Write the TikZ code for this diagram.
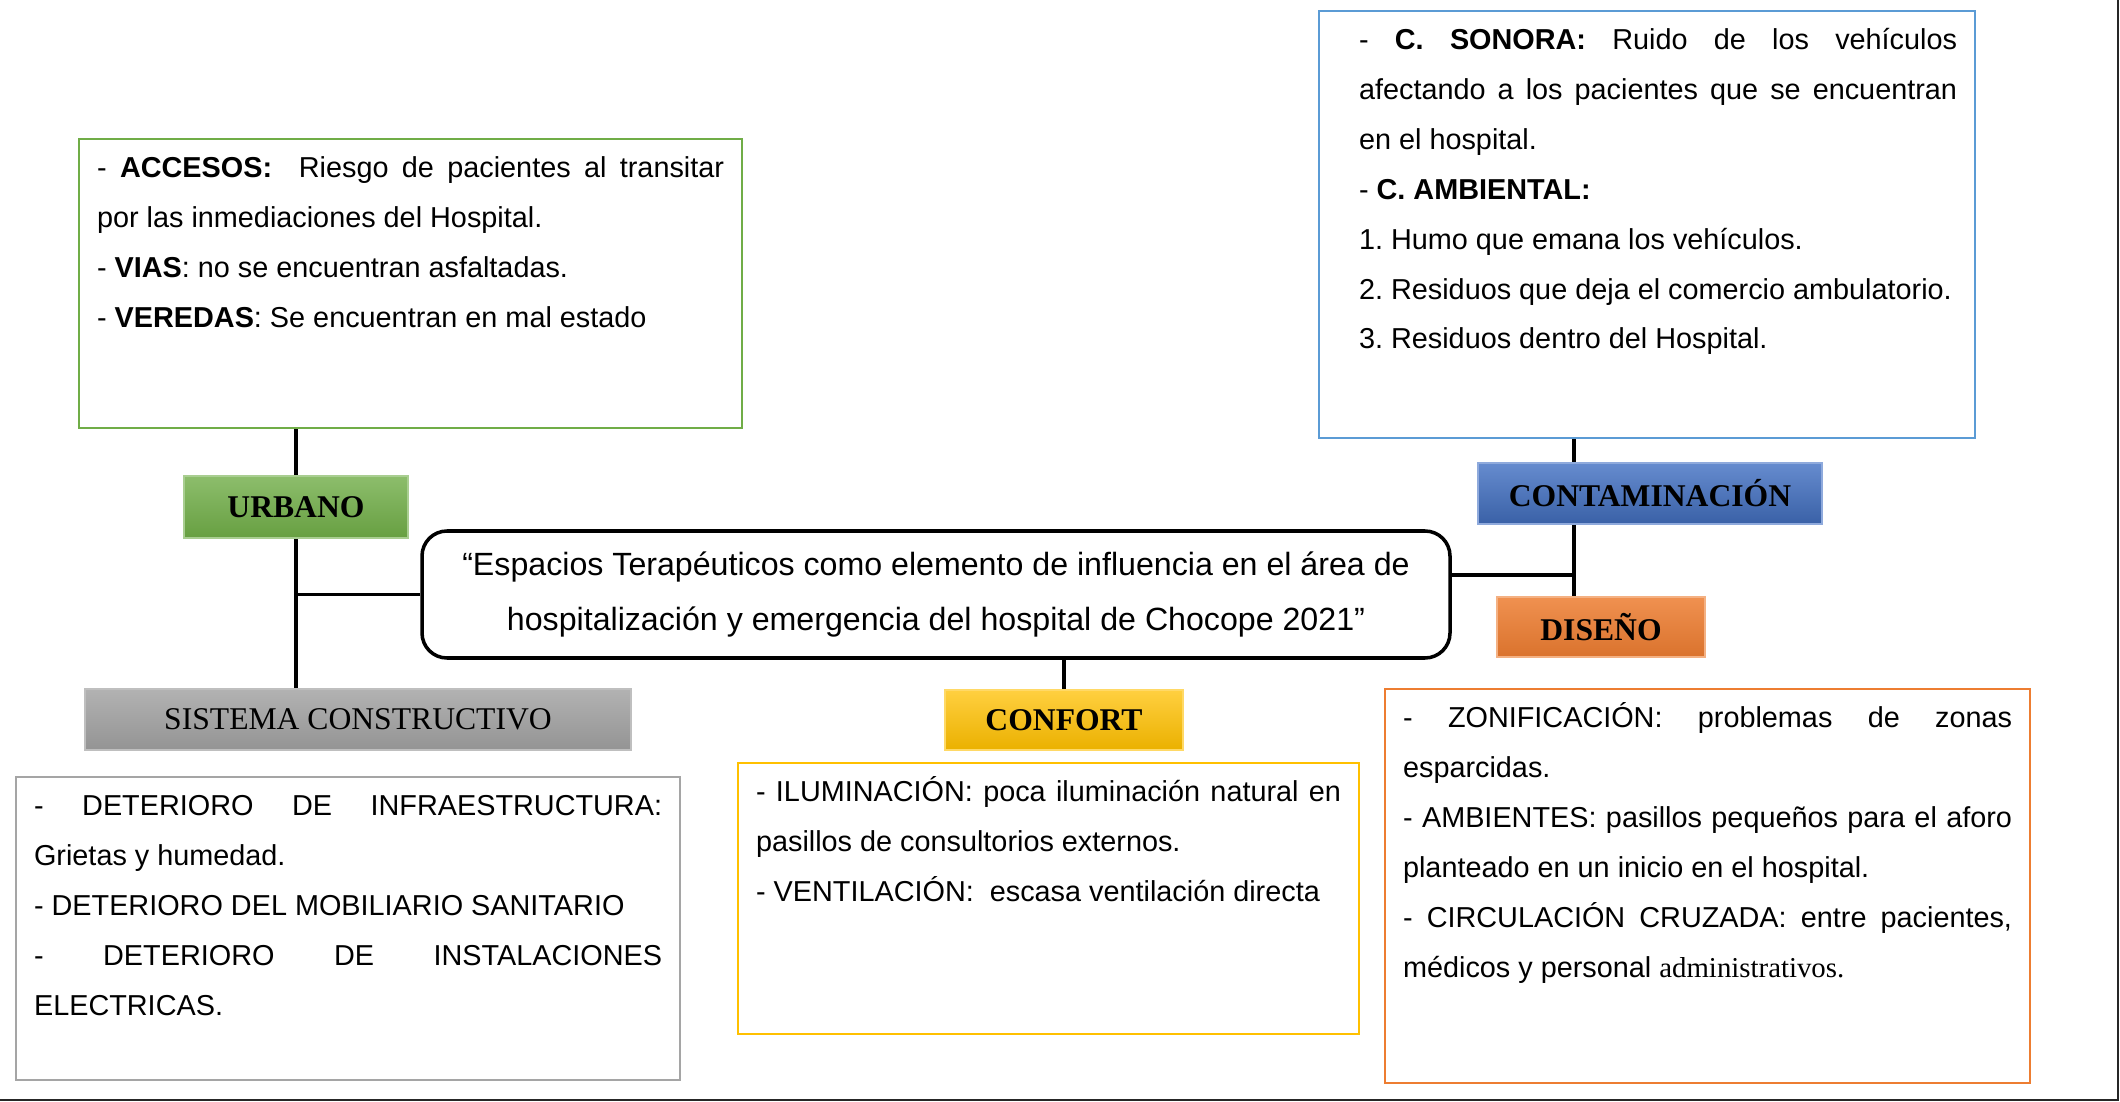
\documentclass[tikz,border=0pt]{standalone}
\usepackage{fontspec}
\setmainfont{Liberation Sans}
\newfontfamily\timesfont{Liberation Serif}
\usepackage{tikz}
\usetikzlibrary{positioning,calc}
\usepackage{xcolor}
\frenchspacing
\definecolor{urbgreen}{RGB}{112,173,71}
\definecolor{contblue}{RGB}{68,114,196}
\definecolor{lineblue}{RGB}{91,155,213}
\definecolor{confyellow}{RGB}{255,192,0}
\definecolor{disorange}{RGB}{237,125,49}
\definecolor{sisgray}{RGB}{165,165,165}
\tikzstyle{link} = [line width=1pt, color=black]
\tikzstyle{pageedge} = [line width=0.7pt, color=black!85]
\tikzstyle{textbox} = [rectangle, anchor=north west, inner xsep=1.8mm, inner ysep=1pt, line width=0.6pt, font=\fontsize{8.2}{14.2}\selectfont]
\tikzstyle{catlabel} = [rectangle, inner sep=0pt, line width=0.5pt, font=\timesfont\fontsize{9}{11}\selectfont\bfseries]
\tikzstyle{mainbox} = [rectangle, rounded corners=2.5mm, draw=black, line width=1pt, align=center, font=\fontsize{9.15}{15.9}\selectfont]
\newcommand{\boxtext}[3]{\parbox[t][#1][t]{#2}{\strut#3}}

\begin{document}
\begin{tikzpicture}[x=0.1mm, y=-0.1mm]
\useasboundingbox (0,0) rectangle (2120,1102);

% central title
\node (central) [mainbox, minimum width=102.8mm, minimum height=12.7mm] at (936,594.5) {“Espacios Terapéuticos como elemento de influencia en el área de\\hospitalización y emergencia del hospital de Chocope 2021”};

% category labels
\node (urbano) [catlabel, minimum width=22.4mm, minimum height=6.2mm, draw=urbgreen!60!white, top color=urbgreen!80!white, bottom color=urbgreen!92!black] at (296,507) {URBANO};
\node (sistema) [catlabel, minimum width=54.6mm, minimum height=6.1mm, draw=black!25, top color=black!30, bottom color=black!42, font=\timesfont\fontsize{9}{11}\selectfont] at (358,719.5) {SISTEMA CONSTRUCTIVO};
\node (confort) [catlabel, minimum width=23.8mm, minimum height=6mm, draw=confyellow!60!white, top color=confyellow!75!white, bottom color=confyellow!92!black] at (1064,720) {CONFORT};
\node (contam) [catlabel, minimum width=34.4mm, minimum height=6.1mm, draw=contblue!60!white, top color=contblue!82!white, bottom color=contblue!85!black] at (1650,493.5) {CONTAMINACIÓN};
\node (diseno) [catlabel, minimum width=20.8mm, minimum height=6mm, draw=disorange!60!white, top color=disorange!85!white, bottom color=disorange!92!black] at (1601,627) {DISEÑO};

% text boxes
\node (urbtext) [textbox, draw=urbgreen] at (78,138) {\boxtext{28.2mm}{62.7mm}{- \textbf{ACCESOS:}\ \ Riesgo de pacientes al transitar\linebreak por las inmediaciones del Hospital.\par
- \textbf{VIAS}: no se encuentran asfaltadas.\par
- \textbf{VEREDAS}: Se encuentran en mal estado}};
\node (context) [textbox, draw=lineblue] at (1318,10) {\boxtext{42mm}{62mm}{\setlength{\leftskip}{2.2mm}- \textbf{C. SONORA:} Ruido de los vehículos\linebreak afectando a los pacientes que se encuentran\linebreak en el hospital.\par
- \textbf{C. AMBIENTAL:}\par
1. Humo que emana los vehículos.\par
2. Residuos que deja el comercio ambulatorio.\par
3. Residuos dentro del Hospital.}};
\node (sistext) [textbox, draw=sisgray] at (15,776) {\boxtext{29.6mm}{62.8mm}{- DETERIORO DE INFRAESTRUCTURA:\linebreak Grietas y humedad.\par
- DETERIORO DEL MOBILIARIO SANITARIO\par
- DETERIORO DE INSTALACIONES\linebreak ELECTRICAS.}};
\node (conftext) [textbox, draw=confyellow] at (737,762) {\boxtext{26.4mm}{58.5mm}{- ILUMINACIÓN: poca iluminación natural en\linebreak pasillos de consultorios externos.\par
- VENTILACIÓN:\ \ escasa ventilación directa}};
\node (disetext) [textbox, draw=disorange] at (1384,688) {\boxtext{38.7mm}{60.9mm}{- ZONIFICACIÓN: problemas de zonas\linebreak esparcidas.\par
- AMBIENTES: pasillos pequeños para el aforo\linebreak planteado en un inicio en el hospital.\par
- CIRCULACIÓN CRUZADA: entre pacientes,\linebreak médicos y personal {\timesfont administrativos.}}};

% connectors
\coordinate (rjoin) at (1574,575);
\draw[link] (urbtext.south -| urbano.north) -- (urbano.north);
\draw[link] (urbano.south) -- (urbano.south |- sistema.north);
\draw[link] (central.west) -- (central.west -| urbano.south);
\draw[link] (central.south -| confort.north) -- (confort.north);
\draw[link] (context.south -| rjoin) -- (contam.north -| rjoin);
\draw[link] (contam.south -| rjoin) -- (diseno.north -| rjoin);
\draw[link] (rjoin -| central.east) -- (rjoin);

\draw[pageedge] (2118,0) -- (2118,1100) -- (0,1100);
\end{tikzpicture}
\end{document}
